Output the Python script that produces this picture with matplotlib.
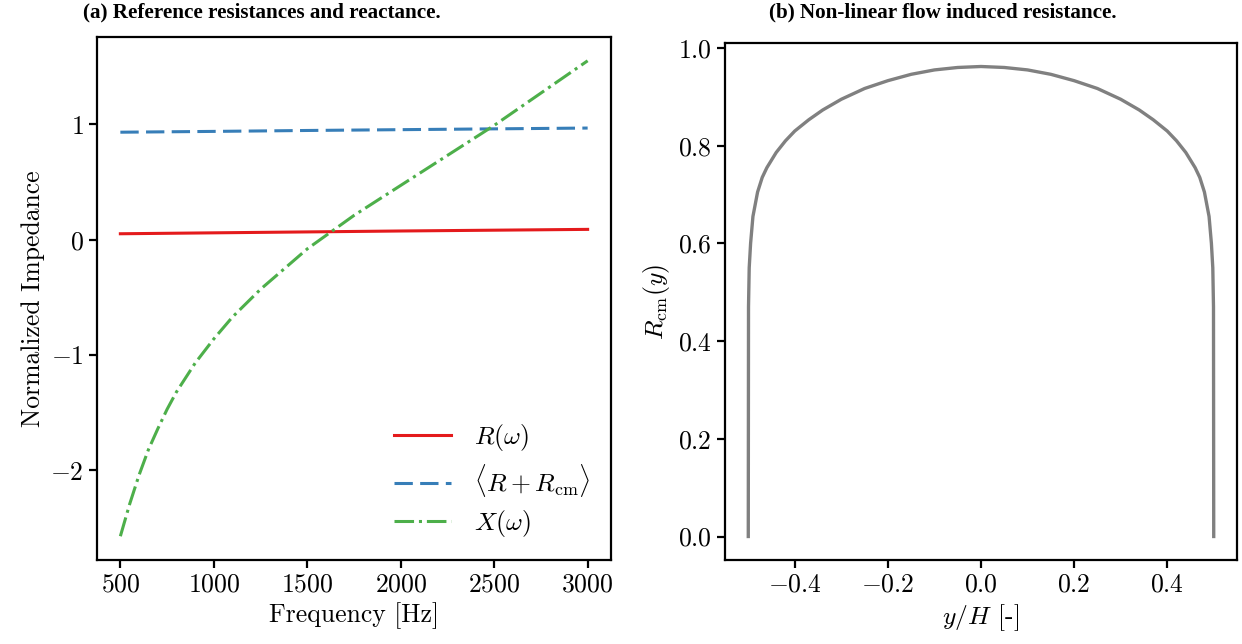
import numpy as np
import matplotlib
matplotlib.use('Agg')
import matplotlib.pyplot as plt

# fonts: computer modern look for axes, bold times for the panel titles
plt.rcParams.update({'font.family': 'serif',
                     'font.serif': ['cmr10', 'DejaVu Serif'],
                     'mathtext.fontset': 'cm',
                     'axes.formatter.use_mathtext': True,
                     'axes.unicode_minus': True,
                     'font.size': 18.5})

# (a) reference resistances and reactance
freq_r = [500, 1000, 1500, 2000, 2500, 3000]
res_r = [0.051, 0.059, 0.067, 0.075, 0.082, 0.089]
res_tot = [0.931, 0.938, 0.946, 0.953, 0.960, 0.967]

freq_x = [500, 550, 600, 650, 700, 750, 800, 900, 1000, 1100, 1250, 1500,
          1750, 2000, 2250, 2500, 2750, 3000]
react_x = [-2.57, -2.29, -2.04, -1.82, -1.64, -1.47, -1.32, -1.07, -0.86, -0.67,
           -0.43, -0.08, 0.21, 0.47, 0.73, 0.99, 1.27, 1.55]

# (b) non-linear flow induced resistance profile
y_h = [-0.5, -0.4995, -0.498, -0.495, -0.49, -0.48, -0.47, -0.46, -0.44, -0.42,
       -0.40, -0.37, -0.34, -0.30, -0.25, -0.20, -0.15, -0.10, -0.05, 0.0,
       0.05, 0.10, 0.15, 0.20, 0.25, 0.30, 0.34, 0.37, 0.40, 0.42,
       0.44, 0.46, 0.47, 0.48, 0.49, 0.495, 0.498, 0.4995, 0.5]
r_cm = [0.0, 0.47, 0.55, 0.60, 0.655, 0.705, 0.735, 0.755, 0.786, 0.810,
        0.830, 0.853, 0.873, 0.895, 0.917, 0.933, 0.946, 0.955, 0.960, 0.962,
        0.960, 0.955, 0.946, 0.933, 0.917, 0.895, 0.873, 0.853, 0.830, 0.810,
        0.786, 0.755, 0.735, 0.705, 0.655, 0.60, 0.55, 0.47, 0.0]

W, H = 1242, 644
fig = plt.figure(figsize=(W / 100, H / 100), dpi=100)

def box(x0, y0, x1, y1):
    return [x0 / W, 1 - y1 / H, (x1 - x0) / W, (y1 - y0) / H]

ax1 = fig.add_axes(box(97, 37, 611, 560))
ax2 = fig.add_axes(box(725, 43, 1237, 560))

ax1.plot(freq_r, res_r, '-', color='#e41a1c', lw=2.2, label=r'$R(\omega)$')
ax1.plot(freq_r, res_tot, '--', color='#377eb8', lw=2.2, dashes=(6, 2.4),
         label=r'$\langle R+R_{\rm cm}\rangle$')
ax1.plot(freq_x, react_x, '-.', color='#4daf4a', lw=2.2, label=r'$X(\omega)$')
ax1.set_xticks([500, 1000, 1500, 2000, 2500, 3000])
ax1.set_yticks([-2, -1, 0, 1])
ax1.set_xlabel('Frequency [Hz]')
ax1.set_ylabel('Normalized Impedance')
ax1.legend(loc='lower right', frameon=False, handlelength=2.2, fontsize=18.5,
           borderaxespad=0.4, labelspacing=0.35, handletextpad=0.9)

ax2.plot(y_h, r_cm, '-', color='gray', lw=2.4)
ax2.set_xticks([-0.4, -0.2, 0.0, 0.2, 0.4])
ax2.set_yticks([0.0, 0.2, 0.4, 0.6, 0.8, 1.0])
ax2.set_xlabel(r'$y/H$ [-]')
ax2.set_ylabel(r'$R_{\rm cm}(y)$')

for ax in (ax1, ax2):
    for s in ax.spines.values():
        s.set_linewidth(1.6)
    ax.tick_params(width=1.6, length=6)

fig.text(262 / W, 1 - 12 / H, '(a) Reference resistances and reactance.',
         family='Liberation Serif', weight='bold', fontsize=15.2,
         ha='center', va='center')
fig.text(943 / W, 1 - 12 / H, '(b) Non-linear flow induced resistance.',
         family='Liberation Serif', weight='bold', fontsize=15.2,
         ha='center', va='center')

fig.savefig('out.png', dpi=100)
